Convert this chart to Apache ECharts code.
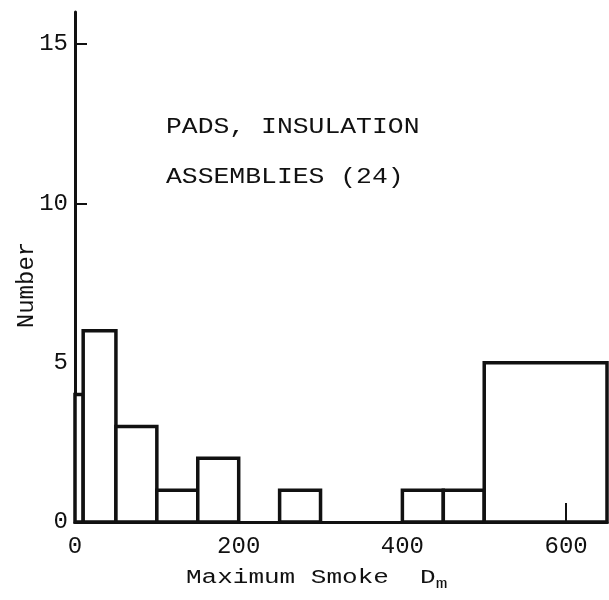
<!DOCTYPE html>
<html>
<head>
<meta charset="utf-8">
<script src="https://cdn.jsdelivr.net/npm/echarts@6/dist/echarts.min.js"></script>
<style>
  html, body { margin: 0; padding: 0; background: #fff; }
  #chart1 { width: 609px; height: 600px; }
</style>
</head>
<body>
<div id="chart1"></div>
<script>
// bin edges (Maximum Smoke Dm) and counts
var binStart = [0, 10, 50, 100, 150, 250, 400, 450, 500];
var binEnd = [10, 50, 100, 150, 200, 300, 450, 500, 650];
var counts = [4, 6, 3, 1, 2, 1, 1, 1, 5];
var xTicks = [0, 200, 400, 600];
var yTicks = [0, 5, 10, 15];
var noteLines = ['PADS, INSULATION', 'ASSEMBLIES (24)'];

var fontMono = '"Liberation Mono", "DejaVu Sans Mono", monospace';
var chart1 = echarts.init(document.getElementById('chart1'));

var seriesData = [];
for (var i = 0; i < counts.length; i++) {
    seriesData.push([binStart[i], binEnd[i], counts[i]]);
}

var option = {
    backgroundColor: '#fff',
    animation: false,
    grid: { left: 75, right: 2, top: 12, bottom: 78 },
    xAxis: {
        type: 'value',
        min: 0,
        max: 650,
        interval: 200,
        splitLine: { show: false },
        axisLine: { lineStyle: { color: '#111', width: 3 } },
        axisTick: { show: false },
        axisLabel: {
            customValues: xTicks,
            color: '#111',
            fontFamily: fontMono,
            fontSize: 24,
            margin: 13
        }
    },
    yAxis: {
        type: 'value',
        min: 0,
        max: 16,
        interval: 5,
        splitLine: { show: false },
        axisLine: { show: true, lineStyle: { color: '#111', width: 3 } },
        axisTick: {
            show: true,
            inside: true,
            length: 12,
            customValues: [10, 15],
            lineStyle: { color: '#111', width: 2 }
        },
        axisLabel: {
            customValues: yTicks,
            color: '#111',
            fontFamily: fontMono,
            fontSize: 24,
            margin: 7
        }
    },
    graphic: [
        {
            type: 'text',
            left: 166, top: 116,
            scaleX: 1.2,
            style: { text: noteLines[0], font: '22px ' + fontMono, fill: '#111' }
        },
        {
            type: 'text',
            left: 166, top: 166,
            scaleX: 1.2,
            style: { text: noteLines[1], font: '22px ' + fontMono, fill: '#111' }
        },
        {
            type: 'text',
            x: 27, y: 285,
            rotation: Math.PI / 2,
            style: {
                text: 'Number', font: '24px ' + fontMono, fill: '#111',
                align: 'center', verticalAlign: 'middle'
            }
        },
        {
            type: 'text',
            x: 186, y: 578,
            scaleX: 1.3,
            style: {
                text: 'Maximum Smoke  D{sub|m}',
                font: '20px ' + fontMono, fill: '#111',
                verticalAlign: 'middle',
                rich: {
                    sub: { fontFamily: fontMono, fontSize: 15, fill: '#111', padding: [12, 0, 0, 0] }
                }
            }
        }
    ],
    series: [{
        type: 'custom',
        data: seriesData,
        encode: { x: [0, 1], y: 2 },
        renderItem: function (params, api) {
            var p1 = api.coord([api.value(0), api.value(2)]);
            var p2 = api.coord([api.value(1), 0]);
            return {
                type: 'rect',
                shape: { x: p1[0], y: p1[1], width: p2[0] - p1[0], height: p2[1] - p1[1] },
                style: { fill: '#fff', stroke: '#111', lineWidth: 3.5 }
            };
        },
        // small tick mark at 600 inside the last bar
        markLine: {
            silent: true,
            symbol: 'none',
            label: { show: false },
            lineStyle: { color: '#111', width: 2, type: 'solid' },
            data: [[{ coord: [600, 0] }, { coord: [600, 0.6] }]]
        }
    }]
};
chart1.setOption(option);
</script>
</body>
</html>
